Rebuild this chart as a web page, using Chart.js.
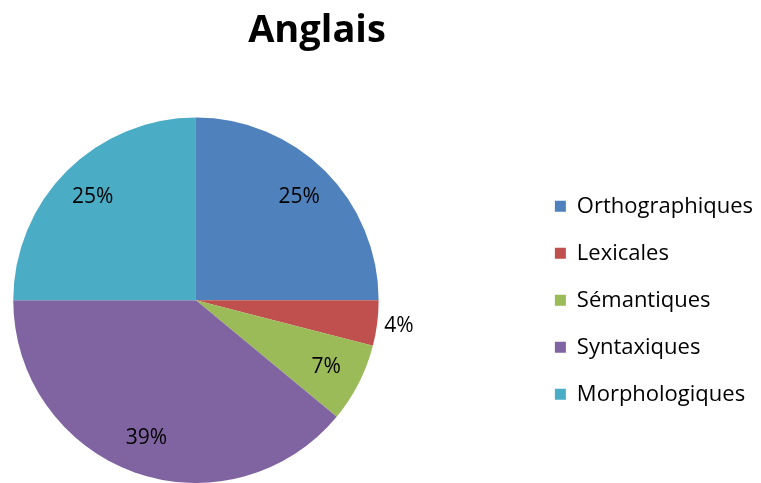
<!DOCTYPE html>
<html>
<head>
<meta charset="utf-8">
<script src="https://cdn.jsdelivr.net/npm/chart.js@4"></script>
<style>
  html, body { margin: 0; padding: 0; background: #fff; }
</style>
</head>
<body>
<canvas id="pieChart" width="761" height="483"></canvas>
<script>
const chartTitle = "Anglais";
const categories = ["Orthographiques", "Lexicales", "Sémantiques", "Syntaxiques", "Morphologiques"];
const percentages = [25, 4, 7, 39, 25];
const sliceColors = ["#4F81BD", "#C0504D", "#9BBB59", "#8064A2", "#4BACC6"];

// percent labels on the slices (small ones go outside)
const sliceLabels = {
  id: "sliceLabels",
  afterDatasetsDraw(chart) {
    const ctx = chart.ctx;
    const meta = chart.getDatasetMeta(0);
    ctx.save();
    ctx.font = "21px 'Open Sans'";
    ctx.fillStyle = "#000";
    ctx.textAlign = "center";
    ctx.textBaseline = "middle";
    meta.data.forEach((arc, i) => {
      const p = arc.getProps(["x", "y", "startAngle", "endAngle", "outerRadius"], true);
      const mid = (p.startAngle + p.endAngle) / 2;
      const r = p.outerRadius * (percentages[i] < 5 ? 1.12 : 0.8);
      ctx.fillText(percentages[i] + "%", p.x + Math.cos(mid) * r, p.y + Math.sin(mid) * r);
    });
    ctx.restore();
  }
};

new Chart(document.getElementById("pieChart"), {
  type: "pie",
  data: {
    labels: categories,
    datasets: [{
      data: percentages,
      backgroundColor: sliceColors,
      borderWidth: 0
    }]
  },
  options: {
    responsive: false,
    animation: false,
    layout: { padding: { left: -129, right: -2, top: 0, bottom: 0 } },
    plugins: {
      title: {
        display: true,
        text: chartTitle,
        color: "#000",
        font: { family: "'Open Sans'", size: 38, weight: "bold" },
        padding: { top: 8, bottom: 64 }
      },
      // blank spacer between the pie and the legend
      subtitle: {
        display: true,
        text: " ",
        position: "right",
        weight: 500,
        font: { size: 1, lineHeight: 1 },
        padding: { top: 137, bottom: 0 }
      },
      legend: {
        position: "right",
        fullSize: false,
        maxWidth: 300,
        labels: {
          color: "#000",
          font: { family: "'Open Sans'", size: 22 },
          boxWidth: 11,
          boxHeight: 11,
          padding: 25
        }
      },
      tooltip: { enabled: false }
    }
  },
  plugins: [sliceLabels]
});
</script>
</body>
</html>
